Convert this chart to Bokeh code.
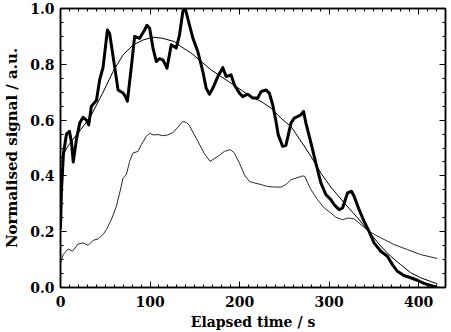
from bokeh.plotting import figure
from bokeh.models import Range1d, LinearAxis, SingleIntervalTicker, PrintfTickFormatter
from bokeh.embed import file_html
from bokeh.resources import INLINE

# ---- data (elapsed time in s, normalised signal in a.u.) ----
t_thick = [0, 1.1, 3.3, 6.7, 10.0, 12.3, 14.2, 17.8, 21.5, 25.3, 29.0, 31.5, 34.5, 40.1, 43.8,
           47.6, 52.4, 54.9, 60.5, 64.3, 69.9, 72.4, 74.7, 79.1, 82.8, 88.4, 93.9, 96.6, 99.5,
           103.3, 107.0, 110.6, 114.4, 118.9, 123.7, 129.3, 132.9, 136.7, 139.3, 144.1, 147.9,
           153.4, 159.0, 162.7, 166.4, 170.1, 175.7, 181.3, 185.0, 190.5, 194.2, 199.8, 203.6,
           209.1, 214.7, 220.3, 224.0, 229.5, 233.2, 237.0, 240.7, 243.2, 248.1, 251.8, 257.4,
           261.1, 264.8, 268.5, 271.5, 274.1, 279.7, 285.2, 290.8, 296.4, 301.9, 305.6, 311.2,
           315.0, 320.6, 325.0, 327.9, 333.5, 339.1, 344.6, 350.2, 357.7, 365.1, 370.7, 376.3,
           383.6, 391.1, 398.6, 405.9, 413.4, 420.8]
v_thick = [0.21, 0.35, 0.48, 0.55, 0.56, 0.52, 0.45, 0.53, 0.59, 0.61, 0.60, 0.583, 0.65, 0.67, 0.745,
           0.79, 0.923, 0.91, 0.79, 0.708, 0.697, 0.685, 0.668, 0.79, 0.90, 0.893, 0.923, 0.94, 0.93,
           0.858, 0.81, 0.82, 0.816, 0.786, 0.87, 0.858, 0.905, 0.99, 1.0, 0.94, 0.893,
           0.845, 0.774, 0.714, 0.693, 0.714, 0.756, 0.788, 0.756, 0.762, 0.726, 0.697, 0.684,
           0.693, 0.679, 0.679, 0.702, 0.708, 0.697, 0.655, 0.595, 0.547, 0.506, 0.51, 0.589,
           0.607, 0.613, 0.619, 0.631, 0.589, 0.518, 0.446, 0.375, 0.333, 0.315, 0.297, 0.279,
           0.285, 0.339, 0.345, 0.327, 0.279, 0.237, 0.201, 0.16, 0.13, 0.112, 0.082, 0.058,
           0.043, 0.035, 0.026, 0.015, 0.007, 0.0]

t_fit = [0, 8.9, 17.8, 32.6, 47.6, 58.7, 69.9, 81.0, 92.1, 103.3, 114.4, 127.4, 134.8, 146.0,
         157.1, 168.2, 179.4, 190.5, 201.7, 212.8, 224.0, 235.1, 246.2, 257.4, 268.5, 279.7,
         290.8, 301.9, 316.4, 331.7, 344.6, 357.7, 368.8, 379.9, 391.1, 402.2, 420.8]
v_fit = [0.46, 0.51, 0.547, 0.607, 0.70, 0.774, 0.834, 0.869, 0.887, 0.897, 0.893, 0.881, 0.863, 0.84,
         0.81, 0.78, 0.756, 0.732, 0.708, 0.684, 0.667, 0.643, 0.607, 0.577, 0.525, 0.47,
         0.41, 0.36, 0.305, 0.25, 0.20, 0.148, 0.112, 0.082, 0.053, 0.035, 0.013]

t_raw = [0, 3.0, 8.6, 13.4, 19.7, 25.3, 30.9, 36.4, 42.0, 47.6, 51.3, 56.8, 62.4, 66.1, 69.9,
         73.5, 77.2, 81.0, 86.6, 90.2, 95.8, 99.5, 103.3, 108.9, 114.4, 120.0, 125.6, 131.1,
         136.7, 140.4, 144.1, 147.9, 153.4, 160.8, 167.1, 175.7, 183.1, 189.7, 194.2, 199.8,
         205.4, 210.9, 216.5, 224.0, 231.4, 238.8, 246.2, 251.8, 257.4, 263.0, 270.4, 273.0,
         276.0, 279.7, 287.1, 294.5, 301.9, 307.5, 315.0, 320.9, 327.9, 333.5, 344.6, 357.7,
         372.5, 387.4, 402.2, 420.8]
v_raw = [0.088, 0.118, 0.138, 0.13, 0.156, 0.16, 0.151, 0.169, 0.174, 0.19, 0.208, 0.243, 0.291, 0.339, 0.392,
         0.404, 0.452, 0.482, 0.488, 0.512, 0.541, 0.553, 0.547, 0.548, 0.544, 0.547, 0.555, 0.575,
         0.595, 0.592, 0.58, 0.556, 0.524, 0.479, 0.452, 0.47, 0.488, 0.494, 0.482, 0.446,
         0.404, 0.38, 0.375, 0.369, 0.362, 0.36, 0.36, 0.369, 0.386, 0.392, 0.40, 0.398,
         0.375, 0.351, 0.315, 0.285, 0.267, 0.252, 0.243, 0.249, 0.246, 0.231, 0.201, 0.178,
         0.154, 0.136, 0.118, 0.104]

x_label = "Elapsed time / s"
y_label = "Normalised signal / a.u."

FONT = "DejaVu Serif"

p = figure(width=451, height=332, output_backend="svg", toolbar_location=None,
           x_range=Range1d(0, 430), y_range=Range1d(0, 1.0),
           min_border_left=59, min_border_right=6, min_border_top=8, min_border_bottom=44)
p.grid.visible = False
p.outline_line_color = "black"
p.outline_line_width = 1.5
p.background_fill_color = "white"
p.border_fill_color = "white"

p.line(t_raw, v_raw, line_color="#2a2a2a", line_width=1)
p.line(t_fit, v_fit, line_color="black", line_width=1)
p.line(t_thick, v_thick, line_color="black", line_width=3, line_join="round")


def style(ax, labels=True):
    ax.axis_line_color = "black"
    ax.axis_line_width = 1.5
    ax.major_tick_in = 6
    ax.major_tick_out = 0
    ax.minor_tick_in = 3
    ax.minor_tick_out = 0
    ax.major_tick_line_color = "black"
    ax.minor_tick_line_color = "black"
    ax.major_label_text_font = FONT
    ax.major_label_text_font_style = "bold"
    ax.major_label_text_font_size = "14px"
    ax.major_label_text_color = "black" if labels else None
    ax.axis_label_text_font = FONT
    ax.axis_label_text_font_style = "bold"
    ax.axis_label_text_color = "black"


xa = p.xaxis[0]
xa.ticker = SingleIntervalTicker(interval=100, num_minor_ticks=10)
style(xa)
xa.major_label_standoff = 8
xa.axis_label = x_label
xa.axis_label_text_font_size = "14px"
xa.axis_label_standoff = 4

ya = p.yaxis[0]
ya.ticker = SingleIntervalTicker(interval=0.2, num_minor_ticks=4)
ya.formatter = PrintfTickFormatter(format="%.1f")
style(ya)
ya.major_label_standoff = 6
ya.axis_label = y_label
ya.axis_label_text_font_size = "15px"
ya.axis_label_standoff = 6

top = LinearAxis(ticker=SingleIntervalTicker(interval=100, num_minor_ticks=10))
style(top, labels=False)
top.major_label_standoff = 0
p.add_layout(top, "above")

right = LinearAxis(ticker=SingleIntervalTicker(interval=0.2, num_minor_ticks=4))
style(right, labels=False)
right.major_label_standoff = 0
p.add_layout(right, "right")

open("out.html", "w").write(file_html(p, INLINE))
